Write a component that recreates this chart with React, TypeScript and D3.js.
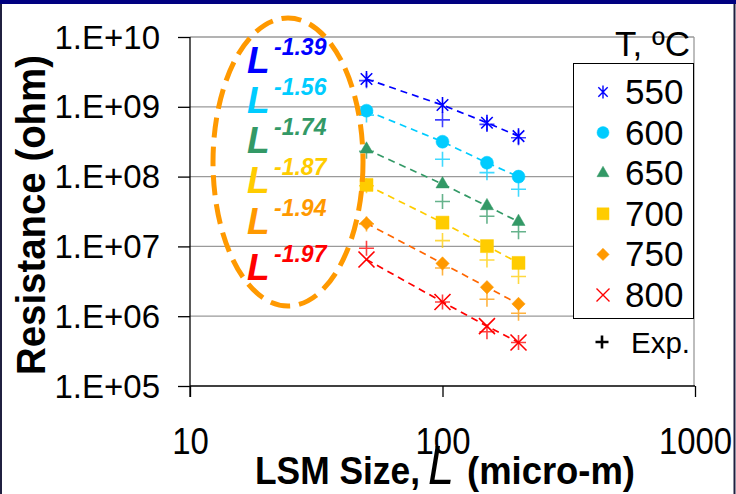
import React, { useEffect, useRef } from 'react'
import * as d3 from 'd3'

// LSM size (micro-m) on the x axis
const sizes = [50, 100, 150, 200]
const temps = ['550', '600', '650', '700', '750', '800']
const exponents = ['-1.39', '-1.56', '-1.74', '-1.87', '-1.94', '-1.97']

// model values (marker + dashed line), ohm
const model550 = [2.5e9, 1.06e9, 5.9e8, 3.8e8]
const model600 = [8.8e8, 3.16e8, 1.58e8, 1.0e8]
const model650 = [2.46e8, 7.8e7, 3.8e7, 2.26e7]
const model700 = [7.6e7, 2.19e7, 1.01e7, 5.8e6]
const model750 = [2.14e7, 5.7e6, 2.6e6, 1.5e6]
const model800 = [6.5e6, 1.6e6, 7.2e5, 4.2e5]

// experimental values (+), ohm
const exp550 = [2.37e9, 6.5e8, 5.6e8, 3.6e8]
const exp600 = [7.6e8, 1.77e8, 1.14e8, 6.6e7]
const exp650 = [2.3e8, 4.4e7, 2.7e7, 1.62e7]
const exp700 = [7.4e7, 1.21e7, 6.4e6, 3.7e6]
const exp750 = [2.1e7, 4.9e6, 1.75e6, 1.1e6]
const exp800 = [9.4e6, 1.6e6, 6.0e5, 4.2e5]

const xTicks = [10, 100, 1000]
const yTicks = [1e5, 1e6, 1e7, 1e8, 1e9, 1e10]
const yTickLabels = ['1.E+05', '1.E+06', '1.E+07', '1.E+08', '1.E+09', '1.E+10']

const models = [model550, model600, model650, model700, model750, model800]
const exps = [exp550, exp600, exp650, exp700, exp750, exp800]
const markerColors = ['#0000ff', '#00ccff', '#339966', '#ffcc00', '#ff9900', '#ff0000']
const lineColors = ['#0000ff', '#00ccff', '#339966', '#ffcc00', '#ff6600', '#ff0000']
const markerKinds = ['star', 'circle', 'triangle', 'square', 'diamond', 'times']

const FONT = '"Liberation Sans", Arial, sans-serif'

const markerPath = (kind: string, s: number) => {
  const sym = d3.symbol()
  if (kind === 'star') {
    const d = s * 0.72
    return `M0,${-s}V${s}M${-d},${-d}L${d},${d}M${-d},${d}L${d},${-d}`
  }
  if (kind === 'times') return `M${-s},${-s}L${s},${s}M${-s},${s}L${s},${-s}`
  if (kind === 'plus') return `M0,${-s}V${s}M${-s},0H${s}`
  if (kind === 'circle') return sym.type(d3.symbolCircle).size(Math.PI * s * s)()
  if (kind === 'triangle') return sym.type(d3.symbolTriangle).size(s * s * 1.75)()
  if (kind === 'square') return sym.type(d3.symbolSquare).size(s * s * 4)()
  return sym.type(d3.symbolSquare).size(s * s * 2.1)()
}

const isStroke = (kind: string) => kind === 'star' || kind === 'times' || kind === 'plus'

const App = () => {
  const ref = useRef<SVGSVGElement>(null)

  useEffect(() => {
    const svg = d3.select(ref.current)
    svg.selectAll('*').remove()

    const x = d3.scaleLog().domain([10, 1000]).range([190, 695])
    const y = d3.scaleLog().domain([1e5, 1e10]).range([386, 37])

    // frame
    svg.append('rect').attr('width', 736).attr('height', 494).attr('fill', '#fff')
    svg.append('rect').attr('width', 736).attr('height', 4).attr('fill', '#000080')
    svg.append('line').attr('x1', 1).attr('x2', 1).attr('y1', 4).attr('y2', 494)
      .attr('stroke', '#202040').attr('stroke-width', 2)
    svg.append('line').attr('x1', 734.5).attr('x2', 734.5).attr('y1', 4).attr('y2', 494)
      .attr('stroke', '#202040').attr('stroke-width', 2)

    // gridlines
    svg.append('g').selectAll('line').data(yTicks.slice(1)).join('line')
      .attr('x1', 190).attr('x2', 694)
      .attr('y1', (d) => y(d)).attr('y2', (d) => y(d))
      .attr('stroke', '#9a9a9a').attr('stroke-width', 1.3)
    svg.append('line').attr('x1', 694).attr('x2', 694).attr('y1', y(1e10)).attr('y2', y(1e5))
      .attr('stroke', '#9a9a9a').attr('stroke-width', 1.3)

    // axes
    const yAxis = d3.axisLeft(y).tickValues(yTicks).tickSize(12).tickPadding(18)
      .tickFormat((d, i) => yTickLabels[i])
    const gy = svg.append('g').attr('transform', 'translate(190,0)').call(yAxis)
    gy.select('.domain').attr('d', `M0,${y(1e10)}V${y(1e5) + 11}`)
    gy.selectAll('line, .domain').attr('stroke', '#000').attr('stroke-width', 1.3)
    gy.selectAll('text').attr('font-family', FONT).attr('font-size', 33).attr('fill', '#000')
      .attr('x', -30).attr('dy', 11)

    const xAxis = d3.axisBottom(x).tickValues(xTicks).tickSize(11).tickPadding(31)
      .tickFormat((d) => String(d))
    const gx = svg.append('g').attr('transform', 'translate(0,386)').call(xAxis)
    gx.select('.domain').attr('d', `M${x(10)},0H${x(1000)}`)
    gx.selectAll('line, .domain').attr('stroke', '#000').attr('stroke-width', 1.3)
    gx.selectAll('text').attr('font-family', FONT).attr('font-size', 36).attr('fill', '#000')
      .attr('textLength', (d: any) => String(d).length * 18.3).attr('lengthAdjust', 'spacingAndGlyphs')

    // series
    const line = d3.line<number>().x((d, i) => x(sizes[i])).y((d) => y(d))
    const plot = svg.append('g')
    models.forEach((vals, k) => {
      plot.append('path').attr('d', line(vals)).attr('fill', 'none')
        .attr('stroke', lineColors[k]).attr('stroke-width', 1.7).attr('stroke-dasharray', '7,5')
    })
    exps.forEach((vals, k) => {
      plot.append('g').selectAll('path').data(vals).join('path')
        .attr('transform', (d, i) => `translate(${x(sizes[i])},${y(d)})`)
        .attr('d', markerPath('plus', 7.5)).attr('fill', 'none')
        .attr('stroke', markerColors[k]).attr('stroke-width', 1.6).attr('opacity', 0.75)
    })
    models.forEach((vals, k) => {
      const kind = markerKinds[k]
      plot.append('g').selectAll('path').data(vals).join('path')
        .attr('transform', (d, i) => `translate(${x(sizes[i])},${y(d)})${kind === 'diamond' ? ' rotate(45)' : ''}`)
        .attr('d', markerPath(kind, isStroke(kind) ? 8 : 6.5))
        .attr('fill', isStroke(kind) ? 'none' : markerColors[k])
        .attr('stroke', markerColors[k]).attr('stroke-width', isStroke(kind) ? 1.6 : 0.5)
    })

    // exponent annotations
    const ann = svg.append('g').attr('font-family', FONT).attr('font-weight', 'bold').attr('font-style', 'italic')
    const lBase = [73, 113, 153, 193, 234, 280]
    exponents.forEach((e, k) => {
      ann.append('text').attr('x', 247).attr('y', lBase[k]).attr('font-size', 37)
        .attr('fill', markerColors[k]).text('L')
      ann.append('text').attr('x', 274).attr('y', lBase[k] - 18).attr('font-size', 23)
        .attr('fill', markerColors[k]).text(e)
    })

    svg.append('ellipse').attr('cx', 288).attr('cy', 162).attr('rx', 75).attr('ry', 144)
      .attr('fill', 'none').attr('stroke', '#ff9900').attr('stroke-width', 5)
      .attr('stroke-dasharray', '20,9')

    // legend
    const lg = svg.append('g').attr('font-family', FONT)
    lg.append('text').attr('x', 690).attr('y', 56).attr('text-anchor', 'end')
      .attr('font-size', 35).text('T, ºC')
    lg.append('rect').attr('x', 573.5).attr('y', 63.5).attr('width', 120).attr('height', 255)
      .attr('fill', '#fff').attr('stroke', '#000').attr('stroke-width', 1)
    temps.forEach((t, k) => {
      const cy = 92 + k * 40.6
      const kind = markerKinds[k]
      lg.append('path')
        .attr('transform', `translate(603,${cy})${kind === 'diamond' ? ' rotate(45)' : ''}`)
        .attr('d', markerPath(kind, isStroke(kind) ? 6.5 : 6))
        .attr('fill', isStroke(kind) ? 'none' : markerColors[k])
        .attr('stroke', markerColors[k]).attr('stroke-width', isStroke(kind) ? 1.4 : 0.5)
      lg.append('text').attr('x', 625).attr('y', cy + 12).attr('font-size', 35).text(t)
    })
    lg.append('path').attr('transform', 'translate(602,342)').attr('d', markerPath('plus', 6.5))
      .attr('stroke', '#000').attr('stroke-width', 2.6)
    lg.append('text').attr('x', 631).attr('y', 353).attr('font-size', 29)
      .attr('textLength', 59).attr('lengthAdjust', 'spacingAndGlyphs').text('Exp.')

    // axis titles
    const tt = svg.append('g').attr('font-family', FONT).attr('fill', '#000')
    tt.append('text').attr('x', 255).attr('y', 484).attr('font-size', 38).attr('font-weight', 'bold')
      .attr('textLength', 165).attr('lengthAdjust', 'spacingAndGlyphs').text('LSM Size,')
    tt.append('text').attr('x', 428).attr('y', 484).attr('font-size', 56).attr('font-style', 'italic')
      .attr('textLength', 26).attr('lengthAdjust', 'spacingAndGlyphs').text('L')
    tt.append('text').attr('x', 467).attr('y', 484).attr('font-size', 38).attr('font-weight', 'bold')
      .attr('textLength', 168).attr('lengthAdjust', 'spacingAndGlyphs').text('(micro-m)')
    tt.append('text').attr('transform', 'translate(45,215) rotate(-90)').attr('text-anchor', 'middle')
      .attr('font-size', 41).attr('font-weight', 'bold')
      .attr('textLength', 320).attr('lengthAdjust', 'spacingAndGlyphs').text('Resistance (ohm)')
  }, [])

  return (
    <svg ref={ref} width={736} height={494}
      style={{ position: 'absolute', left: 0, top: 0, display: 'block' }} />
  )
}

export default App
